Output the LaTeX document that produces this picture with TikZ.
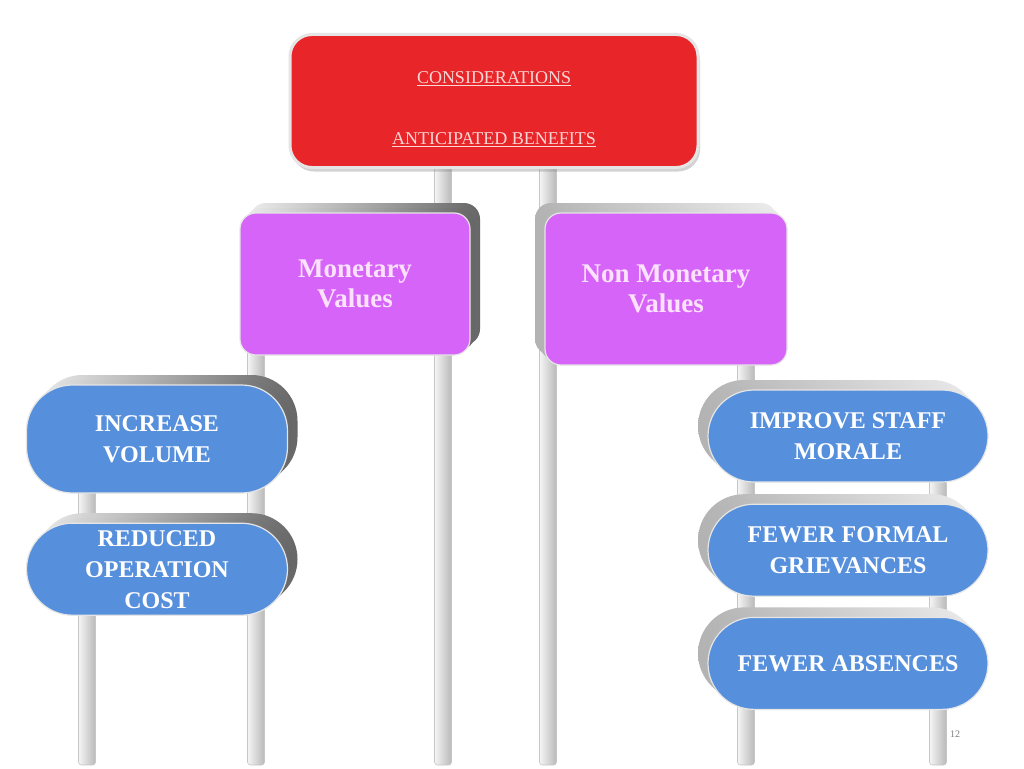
\documentclass[tikz,border=0pt]{standalone}
\usepackage{fontspec}
\setmainfont{Liberation Serif}
\usetikzlibrary{positioning,shadows}

\definecolor{signred}{RGB}{232,37,40}
\definecolor{signpink}{RGB}{214,100,248}
\definecolor{signblue}{RGB}{86,143,220}
\definecolor{pinktext}{RGB}{252,226,252}
\definecolor{redtext}{RGB}{250,215,215}

\tikzset{
  post/.style={left color=gray!8, right color=gray!55, draw=gray!45, line width=0.6pt, rounded corners=3pt},
  liftR/.style={general shadow={shadow xshift=10pt, shadow yshift=10pt, left color=gray!15, right color=black!60},
                general shadow={shadow xshift=5pt, shadow yshift=5pt, left color=gray!15, right color=black!60}},
  liftL/.style={general shadow={shadow xshift=-10pt, shadow yshift=10pt, left color=gray!60, right color=gray!15},
                general shadow={shadow xshift=-5pt, shadow yshift=5pt, left color=gray!60, right color=gray!15}},
  topbox/.style={rectangle, rounded corners=22pt, fill=signred, draw=gray!20, line width=3pt,
                 minimum width=408pt, minimum height=133pt, align=center, text=redtext,
                 font=\fontsize{18}{21}\selectfont,
                 drop shadow={shadow xshift=2pt, shadow yshift=-4pt, opacity=.35}},
  valbox/.style={rectangle, rounded corners=16pt, fill=signpink, draw=white!80!gray, line width=1.2pt,
                 align=center, text=pinktext, font=\bfseries\fontsize{27}{30}\selectfont},
  pill/.style={rectangle, rounded corners=46pt, fill=signblue, draw=white!80!gray, line width=1.2pt,
               align=center, text=white, font=\bfseries\fontsize{24}{31}\selectfont,
               minimum width=280pt, minimum height=92pt, inner sep=0pt},
}

\begin{document}
\begin{tikzpicture}[x=1pt, y=-1pt, node distance=20pt]
  \path[use as bounding box, fill=white] (0,0) rectangle (1024,768);

  % sign posts
  \foreach \px/\py in {87/430, 256/320, 443/160, 548/160, 746/320, 938/430}
    \draw[post] (\px-8.5,\py) rectangle (\px+8.5,765);

  % signs
  \node[topbox] (top) at (494,101) {\rule{0pt}{28pt}\underline{CONSIDERATIONS}\\[40pt]\underline{ANTICIPATED BENEFITS}};

  \node[valbox, liftR, minimum width=230pt, minimum height=142pt] (mon) at (355,284) {Monetary\\Values};
  \node[valbox, liftL, minimum width=242pt, minimum height=152pt] (nonmon) at (666,289) {Non Monetary\\Values};

  \node[pill, liftR, minimum width=261pt, minimum height=108pt] (incvol) at (157,439) {INCREASE\\VOLUME};
  \node[pill, liftR, minimum width=261pt, below=29pt of incvol] (redcost) {REDUCED\\OPERATION\\COST};

  \node[pill, liftL] (staff) at (848,436) {IMPROVE STAFF\\MORALE};
  \node[pill, liftL, below=21pt of staff] (griev) {FEWER FORMAL\\GRIEVANCES};
  \node[pill, liftL, below=20pt of griev] (absent) {FEWER ABSENCES};

  \node[font=\fontsize{10}{12}\selectfont, text=gray] (pageno) at (955,734) {12};
\end{tikzpicture}
\end{document}
